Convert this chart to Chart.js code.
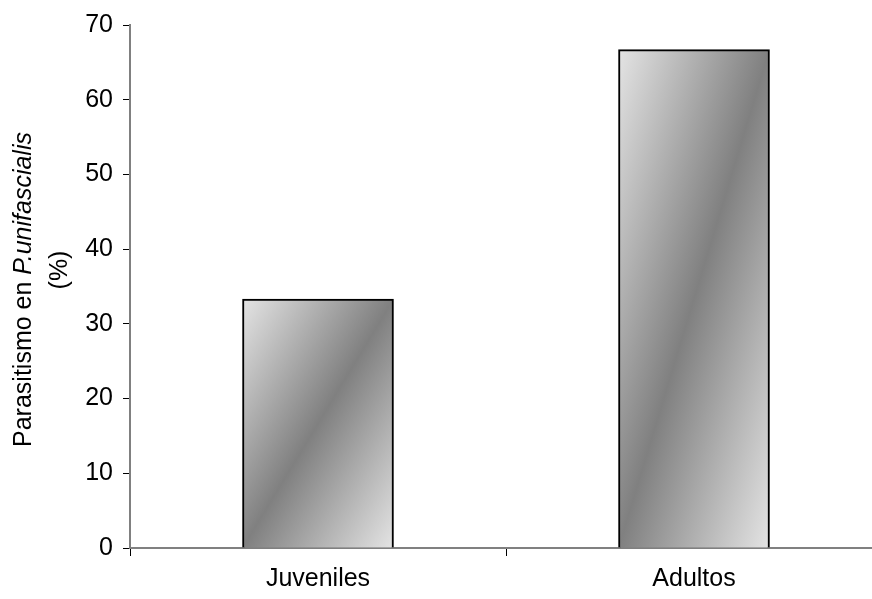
<!DOCTYPE html>
<html>
<head>
<meta charset="utf-8">
<script src="https://cdn.jsdelivr.net/npm/chart.js@4/dist/chart.umd.min.js"></script>
<style>
  html, body { margin: 0; padding: 0; background: #fff; overflow: hidden; }
  #wrap { width: 900px; height: 599px; }
</style>
</head>
<body>
<div id="wrap"><canvas id="c" width="900" height="599"></canvas></div>
<script>
// Parasitism percentage by life stage
const categories = ['Juveniles', 'Adultos'];
const parasitism = [33.3, 66.7];
const yTicks = [0, 10, 20, 30, 40, 50, 60, 70];

const FONT = '"Liberation Sans", Arial, Helvetica, sans-serif';
const BAR_W = 151;

// Diagonal light-dark-light fill, running corner to corner across each bar
function barGradient(ctx) {
  const chart = ctx.chart;
  const xs = chart.scales.x, ys = chart.scales.y;
  if (!xs || !ys || ctx.type !== 'data') return '#a0a0a0';
  const cx = xs.getPixelForValue(ctx.dataIndex);
  const left = cx - BAR_W / 2;
  const top = ys.getPixelForValue(ctx.raw);
  const bottom = ys.getPixelForValue(0);
  if (![cx, top, bottom].every(Number.isFinite) || bottom <= top) return '#a0a0a0';
  const w = BAR_W, h = bottom - top;
  const L2 = w * w + h * h;
  const k = 2 * w * h / L2;
  const g = chart.ctx.createLinearGradient(left, top, left + h * k, top + w * k);
  g.addColorStop(0, '#e4e4e4');
  g.addColorStop(0.5, '#808080');
  g.addColorStop(1, '#e4e4e4');
  return g;
}

// Two-line rotated axis title with the species name in italics
const yTitle = {
  id: 'yTitle',
  afterDraw(chart) {
    const c = chart.ctx;
    const cy = 289.5;
    c.save();
    c.fillStyle = '#000';
    c.textBaseline = 'alphabetic';
    const normal = '25px ' + FONT, italic = 'italic 25px ' + FONT;
    const a = 'Parasitismo en ', b = 'P.unifascialis';
    c.font = normal; const wa = c.measureText(a).width;
    c.font = italic; const wb = c.measureText(b).width;
    c.translate(31, cy);
    c.rotate(-Math.PI / 2);
    c.textAlign = 'left';
    c.font = normal; c.fillText(a, -(wa + wb) / 2, 0);
    c.font = italic; c.fillText(b, -(wa + wb) / 2 + wa, 0);
    c.restore();
    c.save();
    c.fillStyle = '#000';
    c.font = normal;
    c.textAlign = 'center';
    c.translate(67, 270);
    c.rotate(-Math.PI / 2);
    c.fillText('(%)', 0, 0);
    c.restore();
  }
};

const chart = new Chart(document.getElementById('c'), {
  type: 'bar',
  data: {
    labels: categories,
    datasets: [{
      data: parasitism,
      backgroundColor: barGradient,
      borderColor: '#000',
      borderWidth: 2,
      barThickness: BAR_W
    }]
  },
  options: {
    responsive: false,
    animation: false,
    layout: { padding: { left: 0, right: 18, top: 24, bottom: 0 } },
    plugins: { legend: { display: false }, tooltip: { enabled: false } },
    scales: {
      x: {
        offset: true,
        afterFit: s => { s.height = 51; },
        border: { color: '#808080', width: 2 },
        grid: { drawOnChartArea: false, offset: true, tickLength: 8, color: '#000', lineWidth: 1 },
        ticks: { color: '#000', font: { family: FONT, size: 25 }, padding: 8 }
      },
      y: {
        min: 0,
        max: 70,
        afterFit: s => { s.width = 130; },
        afterBuildTicks: s => { s.ticks = yTicks.map(v => ({ value: v })); },
        border: { color: '#808080', width: 2 },
        grid: { drawOnChartArea: false, tickLength: 7, color: '#000', lineWidth: 1 },
        ticks: { color: '#000', font: { family: FONT, size: 25 }, padding: 10 }
      }
    }
  },
  plugins: [yTitle]
});
// second pass so the bar fills are built from laid-out scales
chart.update('none');
</script>
</body>
</html>
